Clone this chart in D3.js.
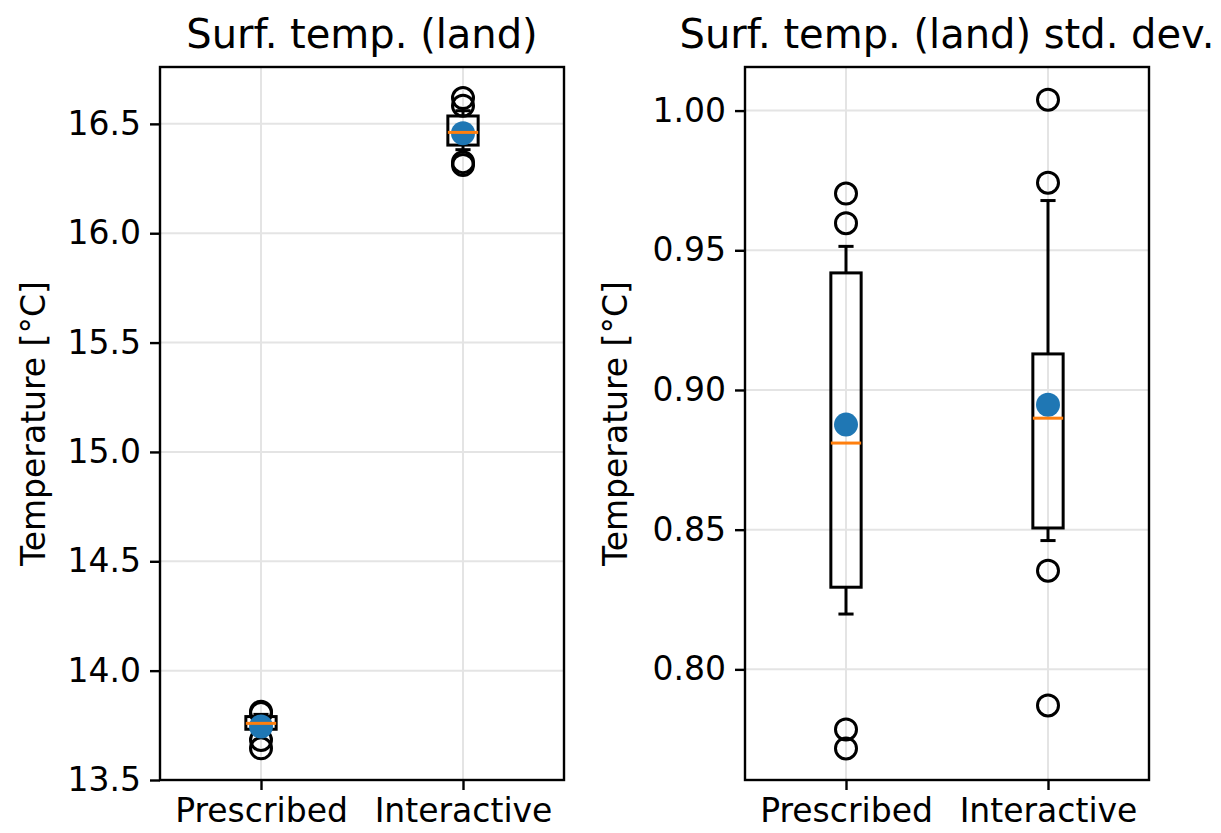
<!DOCTYPE html>
<html>
<head>
<meta charset="utf-8">
<script src="https://cdn.jsdelivr.net/npm/d3@7"></script>
<style>
  body { margin: 0; background: #fff; }
  text { font-family: "DejaVu Sans", sans-serif; fill: #000; }
</style>
</head>
<body>
<div class="chart"></div>
<script>
// Categories and values
var categories = ["Prescribed", "Interactive"];

// Left panel: surface temperature (land)
var tempTicks = [13.5, 14.0, 14.5, 15.0, 15.5, 16.0, 16.5];
var tempQ1 = [13.732, 16.403];
var tempMedian = [13.759, 16.461];
var tempQ3 = [13.790, 16.536];
var tempWhiskLo = [13.722, 16.382];
var tempWhiskHi = [13.800, 16.560];
var tempMean = [13.745, 16.457];
var tempOutliers = [
  [13.812, 13.806, 13.683, 13.645],
  [16.618, 16.583, 16.325, 16.312]
];

// Right panel: standard deviation of surface temperature (land)
var sdTicks = [0.80, 0.85, 0.90, 0.95, 1.00];
var sdQ1 = [0.8294, 0.8506];
var sdMedian = [0.8810, 0.8899];
var sdQ3 = [0.9419, 0.9129];
var sdWhiskLo = [0.8198, 0.8461];
var sdWhiskHi = [0.9514, 0.9678];
var sdMean = [0.8876, 0.8947];
var sdOutliers = [
  [0.9703, 0.9597, 0.7785, 0.7717],
  [1.0039, 0.9742, 0.8353, 0.7871]
];

var svgWidth = 1221;
var svgHeight = 833;

var svg = d3.select(".chart")
  .append("svg")
  .attr("width", svgWidth)
  .attr("height", svgHeight);

var plotTop = 67, plotBottom = 780;

function drawPanel(p) {
  var width = p.right - p.left;

  var g = svg.append("g")
    .attr("transform", `translate(${p.left}, 0)`);

  var x = d3.scalePoint()
    .domain(categories)
    .range([width * 0.25, width * 0.75]);
  var step = width / 2; // one unit between positions
  var boxW = 0.15 * step;
  var capW = boxW / 2;

  var y = d3.scaleLinear()
    .domain(p.domain)
    .range([plotBottom, plotTop]);

  // grid
  g.append("g").selectAll("line")
    .data(p.ticks)
    .enter().append("line")
    .attr("x1", 0).attr("x2", width)
    .attr("y1", d => y(d)).attr("y2", d => y(d))
    .attr("stroke", "#e4e4e4").attr("stroke-width", 2);
  g.append("g").selectAll("line")
    .data(categories)
    .enter().append("line")
    .attr("x1", d => x(d)).attr("x2", d => x(d))
    .attr("y1", plotTop).attr("y2", plotBottom)
    .attr("stroke", "#e4e4e4").attr("stroke-width", 2);

  var idx = d3.range(categories.length);
  var boxes = g.append("g").selectAll("g")
    .data(idx)
    .enter().append("g");

  // whiskers
  boxes.append("line")
    .attr("x1", i => x(categories[i])).attr("x2", i => x(categories[i]))
    .attr("y1", i => y(p.q3[i])).attr("y2", i => y(p.whiskHi[i]))
    .attr("stroke", "#000").attr("stroke-width", 3);
  boxes.append("line")
    .attr("x1", i => x(categories[i])).attr("x2", i => x(categories[i]))
    .attr("y1", i => y(p.q1[i])).attr("y2", i => y(p.whiskLo[i]))
    .attr("stroke", "#000").attr("stroke-width", 3);
  // caps
  boxes.append("line")
    .attr("x1", i => x(categories[i]) - capW / 2).attr("x2", i => x(categories[i]) + capW / 2)
    .attr("y1", i => y(p.whiskHi[i])).attr("y2", i => y(p.whiskHi[i]))
    .attr("stroke", "#000").attr("stroke-width", 3);
  boxes.append("line")
    .attr("x1", i => x(categories[i]) - capW / 2).attr("x2", i => x(categories[i]) + capW / 2)
    .attr("y1", i => y(p.whiskLo[i])).attr("y2", i => y(p.whiskLo[i]))
    .attr("stroke", "#000").attr("stroke-width", 3);
  // box
  boxes.append("rect")
    .attr("x", i => x(categories[i]) - boxW / 2)
    .attr("width", boxW)
    .attr("y", i => y(p.q3[i]))
    .attr("height", i => y(p.q1[i]) - y(p.q3[i]))
    .attr("fill", "none")
    .attr("stroke", "#000").attr("stroke-width", 3);
  // outliers
  boxes.selectAll("circle")
    .data(i => p.outliers[i].map(v => ({ c: categories[i], v: v })))
    .enter().append("circle")
    .attr("cx", d => x(d.c))
    .attr("cy", d => y(d.v))
    .attr("r", 10.5)
    .attr("fill", "none")
    .attr("stroke", "#000").attr("stroke-width", 3);
  // mean
  boxes.append("circle")
    .attr("cx", i => x(categories[i]))
    .attr("cy", i => y(p.mean[i]))
    .attr("r", 12)
    .attr("fill", "#1f77b4");
  // median (drawn over the mean dot)
  boxes.append("line")
    .attr("x1", i => x(categories[i]) - boxW / 2).attr("x2", i => x(categories[i]) + boxW / 2)
    .attr("y1", i => y(p.median[i])).attr("y2", i => y(p.median[i]))
    .attr("stroke", "#ff7f0e").attr("stroke-width", 3);

  // axes
  var leftAxis = d3.axisLeft(y)
    .tickValues(p.ticks)
    .tickFormat(d3.format(p.fmt))
    .tickSize(10).tickPadding(9);
  var ay = g.append("g").call(leftAxis);
  ay.select(".domain").remove();
  ay.selectAll("line").attr("stroke-width", 2.4);
  ay.selectAll("text").style("font-size", "33px");

  var bottomAxis = d3.axisBottom(x).tickSize(10).tickPadding(9);
  var ax = g.append("g")
    .attr("transform", `translate(0, ${plotBottom})`)
    .call(bottomAxis);
  ax.select(".domain").remove();
  ax.selectAll("line").attr("stroke-width", 2.4);
  ax.selectAll("text").style("font-size", "33px");

  // frame
  g.append("rect")
    .attr("x", 0).attr("y", plotTop)
    .attr("width", width).attr("height", plotBottom - plotTop)
    .attr("fill", "none")
    .attr("stroke", "#000").attr("stroke-width", 2.4);

  // title
  g.append("text")
    .attr("x", width / 2).attr("y", plotTop - 19)
    .attr("text-anchor", "middle")
    .style("font-size", "40px")
    .text(p.title);

  // y label
  g.append("text")
    .attr("transform", `translate(${p.ylabelX - p.left}, ${(plotTop + plotBottom) / 2}) rotate(-90)`)
    .attr("text-anchor", "middle")
    .attr("dy", "0.35em")
    .style("font-size", "33px")
    .text("Temperature [°C]");
}

drawPanel({
  left: 160, right: 564,
  domain: [13.5, 16.76],
  ticks: tempTicks, fmt: ".1f",
  q1: tempQ1, median: tempMedian, q3: tempQ3,
  whiskLo: tempWhiskLo, whiskHi: tempWhiskHi,
  mean: tempMean, outliers: tempOutliers,
  title: "Surf. temp. (land)",
  ylabelX: 33
});

drawPanel({
  left: 745, right: 1149,
  domain: [0.7604, 1.0156],
  ticks: sdTicks, fmt: ".2f",
  q1: sdQ1, median: sdMedian, q3: sdQ3,
  whiskLo: sdWhiskLo, whiskHi: sdWhiskHi,
  mean: sdMean, outliers: sdOutliers,
  title: "Surf. temp. (land) std. dev.",
  ylabelX: 615
});
</script>
</body>
</html>
